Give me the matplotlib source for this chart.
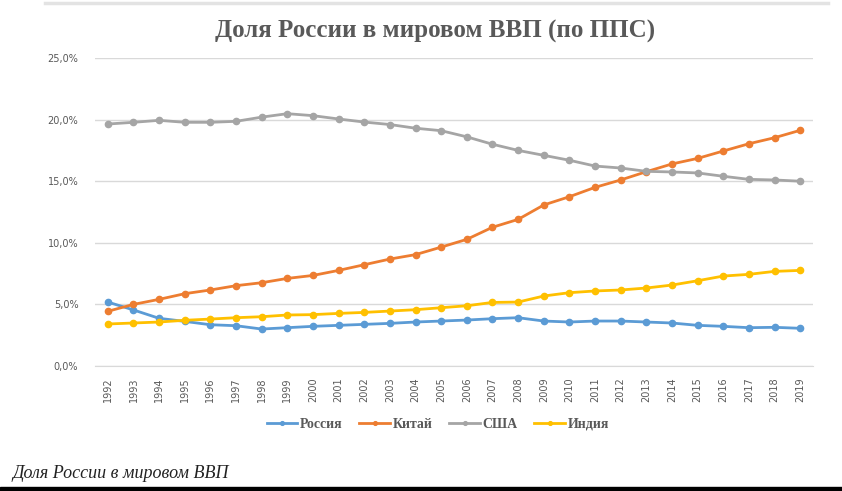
import matplotlib
matplotlib.use("Agg")
import matplotlib.pyplot as plt
from matplotlib.ticker import FuncFormatter

# данные (доля в мировом ВВП по ППС, %)
years = list(range(1992, 2020))

russia = [5.19, 4.55, 3.87, 3.62, 3.35, 3.27, 3.00, 3.11, 3.22, 3.30,
          3.38, 3.46, 3.57, 3.65, 3.73, 3.84, 3.92, 3.65, 3.57, 3.65,
          3.65, 3.57, 3.49, 3.30, 3.22, 3.11, 3.14, 3.06]
china = [4.44, 5.00, 5.41, 5.87, 6.17, 6.52, 6.76, 7.11, 7.35, 7.76,
         8.22, 8.68, 9.04, 9.65, 10.28, 11.26, 11.90, 13.07, 13.74, 14.50,
         15.10, 15.77, 16.40, 16.85, 17.45, 18.04, 18.53, 19.13]
usa = [19.64, 19.78, 19.94, 19.78, 19.78, 19.86, 20.20, 20.48, 20.32, 20.05,
       19.80, 19.60, 19.30, 19.10, 18.60, 18.00, 17.50, 17.10, 16.70, 16.23,
       16.07, 15.80, 15.75, 15.67, 15.40, 15.15, 15.10, 15.00]
india = [3.41, 3.49, 3.57, 3.71, 3.81, 3.92, 4.00, 4.14, 4.17, 4.27,
         4.35, 4.46, 4.57, 4.73, 4.89, 5.16, 5.19, 5.68, 5.95, 6.09,
         6.17, 6.33, 6.57, 6.92, 7.30, 7.44, 7.68, 7.76]

series = [
    ("Россия", russia, "#5B9BD5"),
    ("Китай", china, "#ED7D31"),
    ("США", usa, "#A5A5A5"),
    ("Индия", india, "#FFC000"),
]

fig = plt.figure(figsize=(8.42, 4.91), dpi=100)
ax = fig.add_axes([95 / 842, 1 - 366 / 491, 718 / 842, 308 / 491])

for name, vals, col in series:
    ax.plot(years, vals, color=col, lw=2.0, marker="o", ms=4.5,
            label=name, zorder=3)

ax.set_xlim(1991.5, 2019.5)
ax.set_ylim(0, 25)
ax.set_yticks([0, 5, 10, 15, 20, 25])
ax.yaxis.set_major_formatter(FuncFormatter(lambda v, p: f"{v:.1f}%".replace(".", ",")))
ax.set_xticks(years)
ax.set_xticklabels([str(y) for y in years], rotation=90)

ax.grid(axis="y", color="#D9D9D9", lw=1)
ax.set_axisbelow(True)
for s in ["top", "right", "left"]:
    ax.spines[s].set_visible(False)
ax.spines["bottom"].set_color("#D9D9D9")
ax.tick_params(length=0, colors="#595959", labelsize=7)
ax.tick_params(axis="x", pad=8)
ax.tick_params(axis="y", pad=12)

fig.text(0.517, 1 - 31 / 491, "Доля России в мировом ВВП (по ППС)",
         ha="center", va="center", fontsize=18, fontweight="bold",
         family="Liberation Serif", color="#595959")

ax.legend(loc="center", bbox_to_anchor=(438 / 842, 1 - 424 / 491),
          bbox_transform=fig.transFigure, ncol=4, frameon=False,
          prop={"family": "Liberation Serif", "weight": "bold", "size": 10},
          labelcolor="#595959", handlelength=2.2, handletextpad=0.2,
          columnspacing=1.2, markerscale=0.6)

fig.text(12 / 842, 1 - 473 / 491, "Доля России в мировом ВВП",
         ha="left", va="center", fontsize=13, style="italic",
         family="Liberation Serif", color="#222222")

# рамочные линии сверху и снизу
fig.add_artist(plt.Line2D([45 / 842, 828 / 842], [1 - 3 / 491] * 2,
                          color="#E3E3E3", lw=2.5))
fig.add_artist(plt.Rectangle((0, 0), 1, 4 / 491, color="black"))

fig.savefig("out.png", dpi=100)
